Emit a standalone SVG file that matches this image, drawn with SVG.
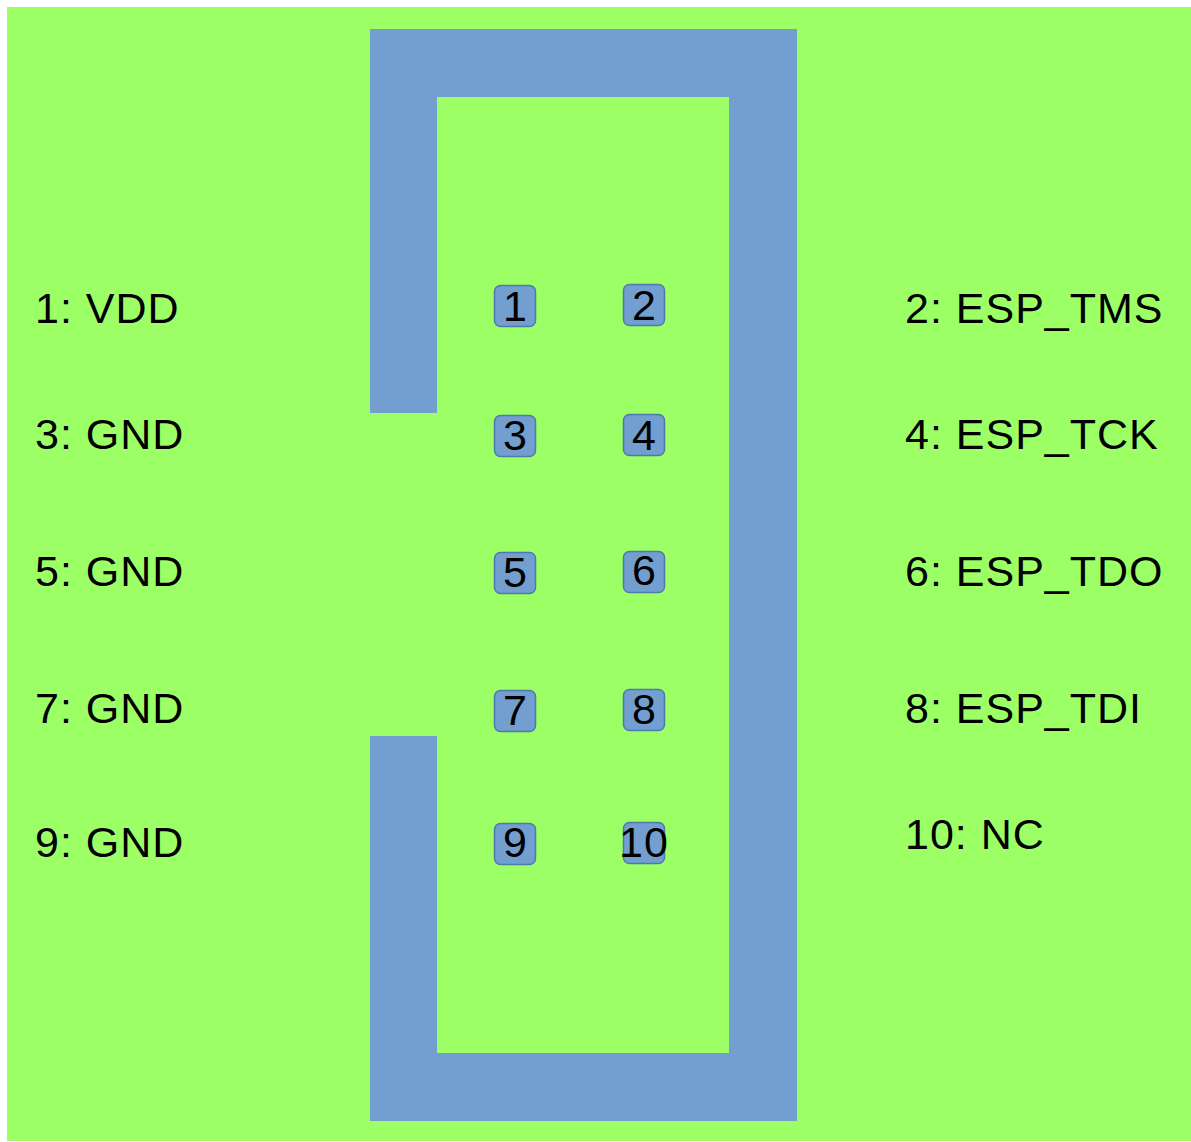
<svg xmlns="http://www.w3.org/2000/svg" width="1191" height="1142" viewBox="0 0 1191 1142">
<style>
.bar{fill:#729fcf}
.pin{fill:#729fcf;stroke:#4e7aab;stroke-width:1.5}
.t{font-family:"Liberation Sans",Arial,sans-serif;font-size:43px;letter-spacing:1px;fill:#000}
.n{font-family:"Liberation Sans",Arial,sans-serif;font-size:43px;fill:#000;text-anchor:middle}
</style>
<rect x="0" y="0" width="1191" height="1142" fill="#ffffff"/>
<rect x="7" y="7" width="1184" height="1134" fill="#9cff66"/>
<g id="housing">
<rect class="bar" x="370" y="29" width="427" height="68"/>
<rect class="bar" x="370" y="29" width="67" height="384"/>
<rect class="bar" x="729" y="29" width="68" height="1092"/>
<rect class="bar" x="370" y="1053" width="427" height="68"/>
<rect class="bar" x="370" y="736" width="67" height="385"/>
</g>
<g id="pin1"><rect class="pin" x="494.5" y="285.5" width="41" height="41" rx="6"/><text class="n" x="515" y="321">1</text></g>
<g id="pin2"><rect class="pin" x="623.5" y="284.5" width="41" height="41" rx="6"/><text class="n" x="644" y="320">2</text></g>
<g id="pin3"><rect class="pin" x="494.5" y="415.5" width="41" height="41" rx="6"/><text class="n" x="515" y="450">3</text></g>
<g id="pin4"><rect class="pin" x="623.5" y="414.5" width="41" height="41" rx="6"/><text class="n" x="644" y="450">4</text></g>
<g id="pin5"><rect class="pin" x="494.5" y="552.5" width="41" height="41" rx="6"/><text class="n" x="515" y="587">5</text></g>
<g id="pin6"><rect class="pin" x="623.5" y="551.5" width="41" height="41" rx="6"/><text class="n" x="644" y="585">6</text></g>
<g id="pin7"><rect class="pin" x="494.5" y="690.5" width="41" height="41" rx="6"/><text class="n" x="515" y="725">7</text></g>
<g id="pin8"><rect class="pin" x="623.5" y="689.5" width="41" height="41" rx="6"/><text class="n" x="644" y="724">8</text></g>
<g id="pin9"><rect class="pin" x="494.5" y="823.5" width="41" height="41" rx="6"/><text class="n" x="515" y="857">9</text></g>
<g id="pin10"><rect class="pin" x="623.5" y="822.5" width="41" height="41" rx="6"/><text class="n" x="644" y="857" letter-spacing="1">10</text></g>
<g id="labels">
<text class="t" x="35" y="323">1: VDD</text>
<text class="t" x="35" y="449">3: GND</text>
<text class="t" x="35" y="586">5: GND</text>
<text class="t" x="35" y="723">7: GND</text>
<text class="t" x="35" y="857">9: GND</text>
<text class="t" x="905" y="323">2: ESP_TMS</text>
<text class="t" x="905" y="449">4: ESP_TCK</text>
<text class="t" x="905" y="586">6: ESP_TDO</text>
<text class="t" x="905" y="723">8: ESP_TDI</text>
<text class="t" x="905" y="849">10: NC</text>
</g>
<g id="connectors"/>
</svg>
